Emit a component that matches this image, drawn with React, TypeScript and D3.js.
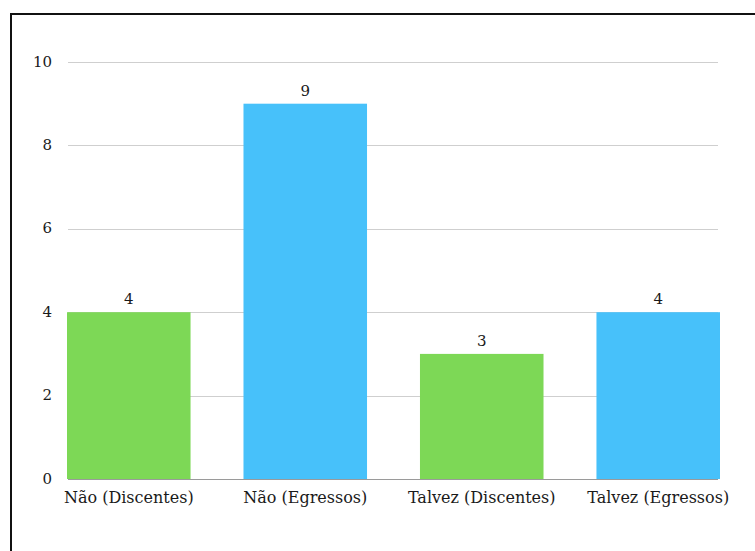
import { useEffect, useRef } from "react";
import * as d3 from "d3";

const CATEGORIES = ["Não (Discentes)", "Não (Egressos)", "Talvez (Discentes)", "Talvez (Egressos)"];
const VALUES = [4, 9, 3, 4];
const BAR_COLORS = ["#7dd856", "#47c1fa", "#7dd856", "#47c1fa"];
const Y_TICKS = [0, 2, 4, 6, 8, 10];

export default function App() {
  const ref = useRef<SVGSVGElement>(null);

  useEffect(() => {
    if (!ref.current) return;
    const svg = d3.select(ref.current);
    svg.selectAll("*").remove();

    const W = 755, H = 551;
    svg.attr("width", W).attr("height", H).attr("viewBox", `0 0 ${W} ${H}`);

    svg.append("rect").attr("width", W).attr("height", H).attr("fill", "#fff");

    // frame (only left + top edges visible in the crop)
    svg.append("path")
      .attr("d", `M11,${H} L11,14 L${W},14`)
      .attr("fill", "none")
      .attr("stroke", "#111")
      .attr("stroke-width", 2);

    const x = d3.scaleBand().domain(CATEGORIES).range([67, 720]).paddingInner(0.3).paddingOuter(0);
    const y = d3.scaleLinear().domain([0, 10]).range([479, 62]);

    const font = "'DejaVu Serif', serif";

    // grid
    svg.append("g").selectAll("line")
      .data(Y_TICKS)
      .enter().append("line")
      .attr("x1", 68).attr("x2", 718)
      .attr("y1", d => Math.round(y(d)) + 0.5).attr("y2", d => Math.round(y(d)) + 0.5)
      .attr("stroke", d => d === 0 ? "#9a9a9a" : "#cfcfcf")
      .attr("stroke-width", 1);

    // y labels
    svg.append("g").selectAll("text")
      .data(Y_TICKS)
      .enter().append("text")
      .attr("x", 52)
      .attr("y", d => y(d))
      .attr("dy", "0.3em")
      .attr("text-anchor", "end")
      .attr("font-family", font)
      .attr("font-size", "15px")
      .attr("fill", "#1a1a1a")
      .text(d => d);

    // bars
    svg.append("g").selectAll("rect")
      .data(VALUES)
      .enter().append("rect")
      .attr("x", (_, i) => x(CATEGORIES[i])!)
      .attr("y", d => y(d))
      .attr("width", x.bandwidth())
      .attr("height", d => y(0) - y(d))
      .attr("fill", (_, i) => BAR_COLORS[i]);

    // value labels
    svg.append("g").selectAll("text")
      .data(VALUES)
      .enter().append("text")
      .attr("x", (_, i) => x(CATEGORIES[i])! + x.bandwidth() / 2)
      .attr("y", d => y(d) - 8)
      .attr("text-anchor", "middle")
      .attr("font-family", font)
      .attr("font-size", "15px")
      .attr("fill", "#1a1a1a")
      .text(d => d);

    // x labels
    svg.append("g").selectAll("text")
      .data(CATEGORIES)
      .enter().append("text")
      .attr("x", d => x(d)! + x.bandwidth() / 2)
      .attr("y", 503)
      .attr("text-anchor", "middle")
      .attr("font-family", font)
      .attr("font-size", "16px")
      .attr("fill", "#1a1a1a")
      .text(d => d);
  }, []);

  return (
    <div style={{ position: "absolute", left: 0, top: 0 }}>
      <svg ref={ref} style={{ display: "block" }} />
    </div>
  );
}
